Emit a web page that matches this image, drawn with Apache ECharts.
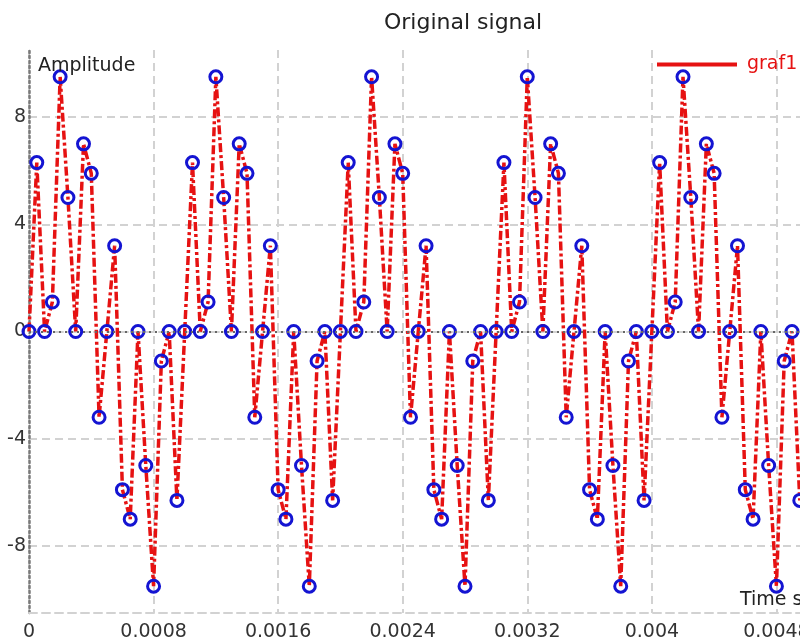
<!DOCTYPE html>
<html>
<head>
<meta charset="utf-8">
<script src="https://cdn.jsdelivr.net/npm/echarts@6/dist/echarts.min.js"></script>
<style>html,body{margin:0;padding:0;background:#fff}#c{width:800px;height:642px}</style>
</head>
<body>
<div id="c"></div>
<script>
var titleText = 'Original signal';
var seriesName = 'graf1';
var yName = 'Amplitude';
var xName = 'Time s';
var yTicks = [-8, -4, 0, 4, 8];

var timeValues = [
  0, 0.00005, 0.0001, 0.00015, 0.0002, 0.00025, 0.0003, 0.00035, 0.0004, 0.00045,
  0.0005, 0.00055, 0.0006, 0.00065, 0.0007, 0.00075, 0.0008, 0.00085, 0.0009, 0.00095,
  0.001, 0.00105, 0.0011, 0.00115, 0.0012, 0.00125, 0.0013, 0.00135, 0.0014, 0.00145,
  0.0015, 0.00155, 0.0016, 0.00165, 0.0017, 0.00175, 0.0018, 0.00185, 0.0019, 0.00195,
  0.002, 0.00205, 0.0021, 0.00215, 0.0022, 0.00225, 0.0023, 0.00235, 0.0024, 0.00245,
  0.0025, 0.00255, 0.0026, 0.00265, 0.0027, 0.00275, 0.0028, 0.00285, 0.0029, 0.00295,
  0.003, 0.00305, 0.0031, 0.00315, 0.0032, 0.00325, 0.0033, 0.00335, 0.0034, 0.00345,
  0.0035, 0.00355, 0.0036, 0.00365, 0.0037, 0.00375, 0.0038, 0.00385, 0.0039, 0.00395,
  0.004, 0.00405, 0.0041, 0.00415, 0.0042, 0.00425, 0.0043, 0.00435, 0.0044, 0.00445,
  0.0045, 0.00455, 0.0046, 0.00465, 0.0047, 0.00475, 0.0048, 0.00485, 0.0049, 0.00495
];
var amplitudeValues = [
  0, 6.3, 0, 1.1, 9.5, 5.0, 0, 7.0, 5.9, -3.2, 0, 3.2, -5.9, -7.0, 0, -5.0, -9.5, -1.1, 0, -6.3,
  0, 6.3, 0, 1.1, 9.5, 5.0, 0, 7.0, 5.9, -3.2, 0, 3.2, -5.9, -7.0, 0, -5.0, -9.5, -1.1, 0, -6.3,
  0, 6.3, 0, 1.1, 9.5, 5.0, 0, 7.0, 5.9, -3.2, 0, 3.2, -5.9, -7.0, 0, -5.0, -9.5, -1.1, 0, -6.3,
  0, 6.3, 0, 1.1, 9.5, 5.0, 0, 7.0, 5.9, -3.2, 0, 3.2, -5.9, -7.0, 0, -5.0, -9.5, -1.1, 0, -6.3,
  0, 6.3, 0, 1.1, 9.5, 5.0, 0, 7.0, 5.9, -3.2, 0, 3.2, -5.9, -7.0, 0, -5.0, -9.5, -1.1, 0, -6.3
];

var pts = timeValues.map(function (t, i) { return [t, amplitudeValues[i]]; });

var RED = '#e61212';
var BLUE = '#1414d2';
var GRID = '#d2d2d2';
var FONT = 'DejaVu Sans';

var chart = echarts.init(document.getElementById('c'), null, {renderer: 'canvas'});
chart.setOption({
  animation: false,
  backgroundColor: '#fff',
  textStyle: {fontFamily: FONT},
  title: {
    text: titleText, left: 379, top: 7,
    textStyle: {fontFamily: FONT, fontSize: 22, fontWeight: 'normal', color: '#222'}
  },
  legend: {
    left: 657, top: 55, padding: 0,
    itemWidth: 80, itemHeight: 4,
    data: [{name: seriesName, icon: 'rect', itemStyle: {color: RED, borderWidth: 0}}],
    textStyle: {fontFamily: FONT, fontSize: 19, color: RED, padding: [0, 0, 0, 5]}
  },
  grid: {left: 29, top: 50, width: 872, height: 563, containLabel: false, outerBoundsMode: 'none'},
  xAxis: [{
    type: 'value', min: 0, max: 0.0056, interval: 0.0008,
    axisLine: {show: true, onZero: false, lineStyle: {color: GRID, width: 2, type: [8, 5]}},
    axisTick: {show: false},
    axisLabel: {
      show: true, margin: 10, fontFamily: FONT, fontSize: 19, color: '#333',
      formatter: function (v) { return String(parseFloat(v.toFixed(6))); }
    },
    splitLine: {show: true, lineStyle: {color: GRID, width: 2, type: [8, 5]}}
  }, {
    type: 'value', position: 'top', min: 0, max: 0.0056, interval: 0.0008,
    axisLine: {show: true, lineStyle: {color: GRID, width: 2, type: [8, 5]}},
    axisTick: {show: false}, axisLabel: {show: false}, splitLine: {show: false}
  }],
  yAxis: {
    type: 'value', min: -10.5, max: 10.5,
    axisLine: {show: true, onZero: false, lineStyle: {color: '#7a7a7a', width: 2.5, type: [2, 3]}},
    axisTick: {show: false, customValues: yTicks},
    axisLabel: {show: true, customValues: yTicks, margin: 3, fontFamily: FONT, fontSize: 19, color: '#333'},
    splitLine: {show: true, lineStyle: {color: GRID, width: 2, type: [8, 5]}}
  },
  graphic: [
    {type: 'text', left: 38, top: 57, z: 100,
     style: {text: yName, fontFamily: FONT, fontSize: 19, fill: '#222'}},
    {type: 'text', left: 740, top: 591, z: 100,
     style: {text: xName, fontFamily: FONT, fontSize: 19, fill: '#222'}}
  ],
  series: [{
    name: seriesName, type: 'line', data: pts,
    xAxisIndex: 0, yAxisIndex: 0,
    symbol: 'circle', symbolSize: 12, showAllSymbol: true,
    lineStyle: {color: RED, width: 3.5, type: [9, 3, 3, 3]},
    itemStyle: {color: 'rgba(255,255,255,0)', borderColor: BLUE, borderWidth: 3},
    markLine: {
      silent: true, symbol: ['none', 'none'], label: {show: false},
      lineStyle: {color: '#666', width: 2, type: [2, 4]},
      data: [{yAxis: 0}]
    }
  }]
});
</script>
</body>
</html>
